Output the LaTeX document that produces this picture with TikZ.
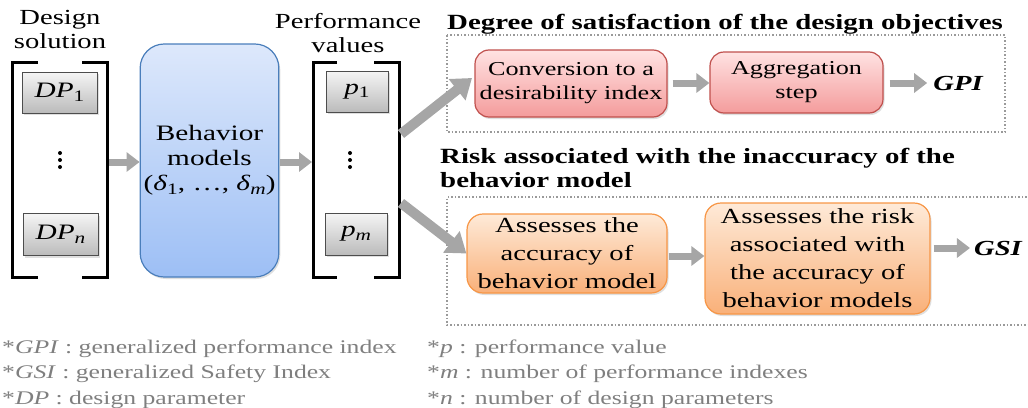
\documentclass[tikz,border=0pt]{standalone}
\usepackage{fontspec}
\setmainfont[FakeStretch=1.33]{Liberation Serif}
\usetikzlibrary{arrows.meta,shadows}
\definecolor{boxTop}{HTML}{F5F5F5}
\definecolor{boxBot}{HTML}{BBBBBB}
\definecolor{boxBorder}{HTML}{4D4D4D}
\definecolor{blueTop}{HTML}{DDE8FB}
\definecolor{blueBot}{HTML}{9DBFF5}
\definecolor{blueBorder}{HTML}{4A7EBB}
\definecolor{redTop}{HTML}{FFE2E2}
\definecolor{redBot}{HTML}{F49C9C}
\definecolor{redBorder}{HTML}{C0504D}
\definecolor{orTop}{HTML}{FEEAD8}
\definecolor{orBot}{HTML}{F9B079}
\definecolor{orBorder}{HTML}{F79646}
\definecolor{arrowGray}{HTML}{A6A6A6}
\definecolor{dotGray}{HTML}{9A9A9A}
\definecolor{noteGray}{HTML}{7F7F7F}
\newcommand\mysub[1]{\raisebox{-0.35ex}{\fontsize{16}{16}\selectfont #1}}
\begin{document}
\begin{tikzpicture}[x=1pt,y=-1pt,
  shadowed/.style={drop shadow={shadow xshift=1.5pt,shadow yshift=-2pt,opacity=0.25}},
  gbox/.style={draw=boxBorder,line width=1pt,top color=boxTop,bottom color=boxBot,inner sep=0pt,shadowed,font=\fontsize{22}{24}\selectfont},
  bluebox/.style={draw=blueBorder,line width=1.2pt,top color=blueTop,bottom color=blueBot,rounded corners=24pt,align=center,shadowed,font=\fontsize{22}{25}\selectfont},
  redbox/.style={draw=redBorder,line width=1.2pt,top color=redTop,bottom color=redBot,rounded corners=14pt,align=center,inner sep=0pt,shadowed,font=\fontsize{19.7}{24}\selectfont},
  orbox/.style={draw=orBorder,line width=1.2pt,top color=orTop,bottom color=orBot,rounded corners=16pt,align=center,inner sep=0pt,shadowed,font=\fontsize{21.5}{28}\selectfont},
  blk/.style={draw=black,line width=3pt},
  garrow/.style={draw=arrowGray,line width=7pt,-{Triangle[length=13pt,width=19pt]}},
  darrow/.style={draw=arrowGray,line width=10pt,-{Triangle[length=19pt,width=26pt]}},
  dotbox/.style={draw=dotGray,line width=1.5pt,dotted},
  head/.style={inner sep=0pt,anchor=base west,font=\bfseries\fontsize{21.7}{24}\selectfont},
  note/.style={inner sep=0pt,anchor=base west,text=noteGray,font=\fontsize{19.3}{25}\selectfont},
  lbl/.style={inner sep=0pt,align=center,font=\fontsize{21.5}{23.5}\selectfont},
  res/.style={inner sep=0pt,font=\bfseries\itshape\fontsize{21.5}{24}\selectfont}
]
\useasboundingbox (0,0) rectangle (1028,407);

% dotted frames
\draw[dotbox] (447,35) rectangle (1005,132);
\draw[dotbox] (1030,197) -- (447,197) -- (447,325) -- (1030,325);

% top labels
\node[lbl] (ds) at (60,29.5) {Design\\solution};
\node[lbl] (pv) at (348,33) {Performance\\values};

% brackets
\draw[blk] (38,62) -- (12,62) -- (12,277) -- (38,277);
\draw[blk] (82,62) -- (107,62) -- (107,277) -- (82,277);
\draw[blk] (337,62) -- (313,62) -- (313,277) -- (337,277);
\draw[blk] (374,62) -- (399,62) -- (399,277) -- (374,277);

% vector entries
\node[gbox,minimum width=75pt,minimum height=41pt] (dp1) at (59.5,92.5) {\textit{DP}\mysub{1}};
\node[gbox,minimum width=75pt,minimum height=42pt] (dpn) at (60.5,234.5) {\textit{DP}\mysub{\textit{n}}};
\node[gbox,minimum width=62pt,minimum height=41pt] (p1) at (357,91.5) {\textit{p}\mysub{1}};
\node[gbox,minimum width=62pt,minimum height=42pt] (pm) at (356,234) {\textit{p}\mysub{\textit{m}}};
\node[inner sep=0pt] (dots1) at (60,160) {};
\node[inner sep=0pt] (dots2) at (350,160) {};
\foreach \d in {-7,0,7}{
  \fill ([yshift=\d pt]dots1) circle (2pt);
  \fill ([yshift=\d pt]dots2) circle (2pt);
}

% behavior model
\node[bluebox,minimum width=133pt,minimum height=233pt] (bm) at (209.5,160.5)
  {Behavior\\models\\(\textit{δ}\mysub{1}, …, \textit{δ}\mysub{\textit{m}})};

% headings
\node[head] (h1) at (447,29) {Degree of satisfaction of the design objectives};
\node[head] (h2a) at (440,163) {Risk associated with the inaccuracy of the};
\node[head] (h2b) at (440,187) {behavior model};

% satisfaction chain
\node[redbox,minimum width=192pt,minimum height=67pt] (r1) at (571,83.5) {Conversion to a\\desirability index};
\node[redbox,minimum width=173pt,minimum height=61pt] (r2) at (796.5,82.5) {Aggregation\\step};
\node[res] (gpi) at (958,83) {GPI};

% risk chain
\node[orbox,minimum width=200pt,minimum height=79pt] (o1) at (567,253.5) {Assesses the\\accuracy of\\behavior model};
\node[orbox,minimum width=225pt,minimum height=111pt] (o2) at (817.5,258.5) {Assesses the risk\\associated with\\the accuracy of\\behavior models};
\node[res] (gsi) at (998,248) {GSI};

% connectors
\coordinate (lbR) at (109,162);
\coordinate (rbL) at (312,162);
\coordinate (rbU) at (401,134);
\coordinate (rbD) at (401,203);
\coordinate (uTip) at (472,78);
\draw[garrow] (lbR) -- (bm.west |- lbR);
\draw[garrow,shorten <=1pt] (bm.east |- rbL) -- (rbL);
\draw[darrow] (rbU) -- (uTip);
\draw[darrow] (rbD) -- (o1.west);
\draw[garrow,shorten <=5pt] (r1.east |- 0,83) -- (r2.west |- 0,83);
\draw[garrow,shorten <=6pt,shorten >=6pt] (r2.east |- 0,83) -- (gpi.west |- 0,83);
\draw[garrow,shorten <=1pt] (o1.east |- 0,256) -- (o2.west |- 0,256);
\draw[garrow,shorten <=3pt,shorten >=4pt] (o2.east |- 0,248) -- (gsi.west);

% footnotes
\node[note] (n1) at (2,353) {*\textit{GPI} : generalized performance index};
\node[note] (n2) at (2,378) {*\textit{GSI} : generalized Safety Index};
\node[note] (n3) at (2,404) {*\textit{DP} : design parameter};
\node[note] (n4) at (427,353) {*\textit{p} : performance value};
\node[note] (n5) at (427,378) {*\textit{m} : number of performance indexes};
\node[note] (n6) at (427,404) {*\textit{n} : number of design parameters};
\end{tikzpicture}
\end{document}
